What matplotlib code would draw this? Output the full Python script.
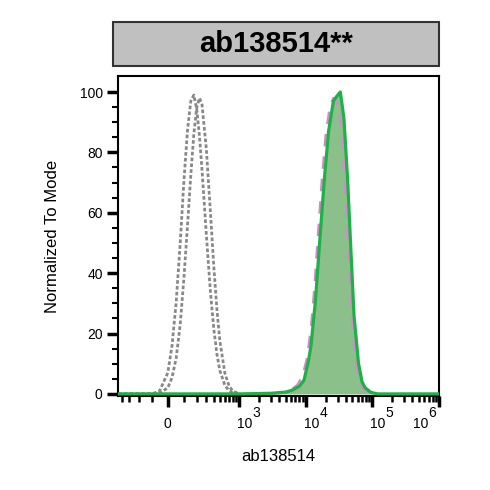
import numpy as np
import matplotlib
matplotlib.use("Agg")
import matplotlib.pyplot as plt
from matplotlib.patches import Rectangle
import matplotlib.transforms as mtransforms

plt.rcParams['font.family'] = ['Liberation Sans', 'DejaVu Sans']

title = "ab138514**"
xlabel = "ab138514"
ylabel = "Normalized To Mode"

# control curve A (gray dotted)
ctrlA_x = [-460, -100, -50, 0, 25, 50, 75, 100, 125, 150, 175, 200, 225, 250, 300, 350, 400, 450, 500, 600, 700, 800, 1000]
ctrlA_y = [0, 0, 0.9, 7.0, 16, 30.4, 49.8, 70.8, 87.4, 97, 99, 94.2, 85.5, 74.8, 52.6, 34.2, 21.4, 13.0, 7.7, 2.8, 1.0, 0.3, 0]
# control curve B (gray dotted)
ctrlB_x = [-460, -100, -50, 0, 25, 50, 75, 100, 125, 150, 175, 200, 225, 250, 300, 350, 400, 450, 500, 600, 700, 800, 1000]
ctrlB_y = [0, 0, 0.2, 2.0, 5.4, 11.9, 22.9, 38.6, 55.8, 72.6, 86.3, 94.9, 98, 96.2, 81, 60.7, 42.1, 27.6, 17.5, 6.8, 2.5, 0.9, 0]

# stained sample (green, filled)
samp_x = [-460, 1000, 3000, 5000, 6200, 8000, 9400, 11000, 12000, 14000, 16000, 19000, 22000,
          26000, 29000, 33000, 35500, 37500, 42500, 47500, 53000, 62000, 70000, 78000, 95000, 120000, 1e6]
samp_y = [0, 0, 0.2, 0.6, 1.2, 2.5, 4.5, 11, 16, 31, 49, 71, 87,
          97, 98.5, 100, 95, 91, 71, 48, 26, 10, 4, 2, 0.5, 0, 0]

# second stained sample (pink dashed)
alt_x = [3000, 5000, 6000, 7500, 9000, 10500, 12000, 13500, 15000, 17500, 20000, 23000, 26000,
         29000, 32000, 35000, 39000, 44000, 49000, 56000, 64000, 75000, 90000, 120000]
alt_y = [0, 0.7, 1.2, 3, 6, 12, 22, 35, 50, 71, 86, 95, 98,
         97, 93, 85, 68, 45, 26, 11, 4, 1.5, 0.3, 0]

yticks = [0, 20, 40, 60, 80, 100]
xticks = [0, 1e3, 1e4, 1e5, 1e6]
xtick_base = ["0", "10", "10", "10", "10"]
xtick_exp = ["", "3", "4", "5", "6"]

W = 170.0
def fwd(x):
    return np.arcsinh(np.asarray(x, dtype=float) / W) / np.log(10)
def inv(u):
    return W * np.sinh(np.asarray(u, dtype=float) * np.log(10))

fig = plt.figure(figsize=(4.9, 4.9), dpi=100)
ax = fig.add_axes([118/490, (490-396)/490, (439-118)/490, (396-76)/490])
ax.set_xscale('function', functions=(fwd, inv))

ax.fill_between(samp_x, samp_y, 0, color='#8cc08a', lw=0, zorder=1)
ax.plot(ctrlA_x, ctrlA_y, color='#888888', lw=2.0, dashes=(1.3, 0.8), zorder=2)
ax.plot(ctrlB_x, ctrlB_y, color='#888888', lw=2.0, dashes=(1.3, 0.8), zorder=2)
ax.plot(alt_x, alt_y, color='#d08cc8', lw=1.8, dashes=(5, 4), zorder=3)
ax.plot(samp_x, samp_y, color='#1fb04a', lw=2.3, zorder=4, solid_joinstyle='round')

ax.set_xlim(-460, 1e6)
ax.set_ylim(-0.7, 105.3)

ax.set_yticks(yticks)
ax.set_yticks(np.arange(0, 105, 5), minor=True)
ax.tick_params(axis='y', which='major', length=8, width=2.5, labelsize=10, pad=3)
ax.tick_params(axis='y', which='minor', length=4, width=1.5)

ax.set_xticks(xticks)
ax.set_xticklabels(xtick_base)
minor = [-400, -300, -200, -100, 100, 200, 300, 400, 500, 600, 700, 800, 900]
for d in [1e3, 1e4, 1e5]:
    minor += [k * d for k in range(2, 10)]
ax.set_xticks(minor, minor=True)
ax.tick_params(axis='x', which='major', length=8, width=2.5, labelsize=10, pad=7.2)
ax.tick_params(axis='x', which='minor', length=4, width=1.8)

# power-of-ten labels: base "10" left aligned near tick, exponent raised at full size
label_shift = [0, -2, -2, -2, -26]
blend = mtransforms.blended_transform_factory(ax.transData, ax.transAxes)
labels = ax.get_xticklabels()
for i, lab in enumerate(labels):
    if xtick_exp[i] == "":
        continue
    lab.set_ha('left')
    lab.set_transform(lab.get_transform() + mtransforms.ScaledTranslation(label_shift[i]/100, 0, fig.dpi_scale_trans))
    ax.text(xticks[i], 0, xtick_exp[i], fontsize=10, ha='left', va='top',
            transform=blend + mtransforms.ScaledTranslation((label_shift[i] + 15.5)/100, -10/100, fig.dpi_scale_trans),
            clip_on=False)

for s in ax.spines.values():
    s.set_linewidth(1.5)

ax.set_xlabel(xlabel, fontsize=12, labelpad=13)
ax.set_ylabel(ylabel, fontsize=12, labelpad=14)

# title box
fig.patches.append(Rectangle((113/490, (490-66)/490), (439-113)/490, 44/490,
                             transform=fig.transFigure, facecolor='#c0c0c0',
                             edgecolor='#333333', lw=1.5))
fig.text((113+439)/2/490, (490-44)/490, title, ha='center', va='center',
         fontsize=21, fontweight='bold')

fig.savefig("out.png", dpi=100)
